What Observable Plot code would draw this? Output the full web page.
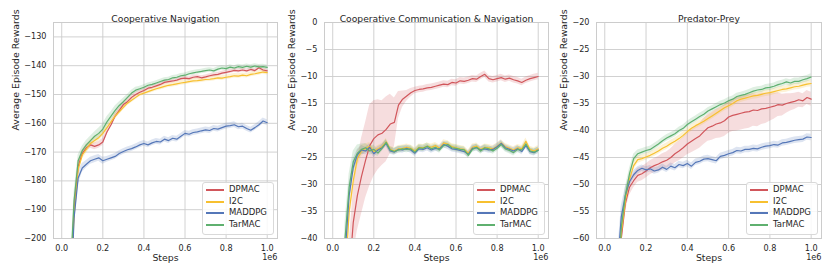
<!DOCTYPE html>
<html><head><meta charset="utf-8">
<script src="https://cdn.jsdelivr.net/npm/d3@7"></script>
<script src="https://cdn.jsdelivr.net/npm/@observablehq/plot@0.6"></script>
<style>
body{margin:0;background:#fff;width:830px;height:277px;overflow:hidden;font-family:'DejaVu Sans',sans-serif}
#wrap{position:relative;width:830px;height:277px}
.panel{position:absolute;top:0}
.panel svg text{font-family:'DejaVu Sans',sans-serif}
.legend{position:absolute;border:1px solid #d9d9d9;border-radius:3px;background:rgba(255,255,255,0.85);font-family:'DejaVu Sans',sans-serif;font-size:8.5px;color:#262626;padding:1px 3px 1px 3px;line-height:11.7px;box-sizing:border-box}
.legend .row{display:flex;align-items:center;white-space:nowrap}
.legend .sw{display:inline-block;width:18px;height:2px;margin-right:5px}
</style></head><body><div id="wrap"></div>
<script>
const series = ["DPMAC", "I2C", "MADDPG", "TarMAC"];
const colors = ["#d1565b", "#f7c030", "#5577b8", "#5fb06f"];
const steps = [0.02,0.04,0.06,0.08,0.10,0.12,0.14,0.16,0.18,0.20,
  0.22,0.24,0.26,0.28,0.30,0.32,0.34,0.36,0.38,0.40,
  0.42,0.44,0.46,0.48,0.50,0.52,0.54,0.56,0.58,0.60,
  0.62,0.64,0.66,0.68,0.70,0.72,0.74,0.76,0.78,0.80,
  0.82,0.84,0.86,0.88,0.90,0.92,0.94,0.96,0.98,1.00];
const xTicks = [0, 0.2, 0.4, 0.6, 0.8, 1.0];

// Cooperative Navigation
const cnDPMAC = [-300,-222,-190,-175,-170.5,-168.5,-167.5,-168,-167.5,-166.5,
  -163,-160.5,-157.5,-155.5,-153.5,-152.5,-151,-150,-149.2,-148.6,
  -147.8,-147.5,-147,-146.5,-145.8,-145.5,-145.3,-145,-144.5,-144.3,
  -144.5,-144,-143.8,-144.2,-143.9,-143.5,-143.2,-143,-142.6,-142.3,
  -142,-141.6,-141.8,-141.5,-141.8,-141.3,-141.7,-140.7,-141.5,-141.8];
const cnI2C = [-300,-225,-192,-176,-171,-169,-167,-166,-165,-163.5,
  -161.5,-159.5,-157.5,-156,-154.5,-153,-152,-151,-150,-149.5,
  -149,-148.5,-148,-147.6,-147.2,-146.8,-146.6,-146.3,-146,-145.8,
  -145.5,-145.3,-145.2,-145,-144.8,-144.7,-144.5,-144.2,-144.3,-144,
  -143.8,-143.5,-143.6,-143.3,-143.5,-143,-142.8,-142.5,-142.2,-142.4];
const cnMADDPG = [-320,-230,-193,-179,-175.5,-174.2,-173,-172.5,-172,-173,
  -172.5,-172,-171.5,-170.5,-169.8,-169.2,-168.8,-168.2,-167.5,-167,
  -167.5,-166.8,-166.3,-166.5,-165.5,-166,-165.2,-165.5,-164.5,-163.5,
  -163.8,-163.2,-163,-162.6,-162.3,-162.5,-161.8,-162,-161.5,-161,
  -160.8,-160.5,-161.2,-161,-161.8,-162.4,-161.5,-160.5,-159.2,-159.8];
const cnTarMAC = [-300,-215,-187,-173,-169.5,-167.5,-166,-164.5,-163.5,-162,
  -159.5,-157.5,-155.5,-153.8,-152.5,-151,-149.5,-148.5,-148,-147.5,
  -146.8,-146.5,-146,-145.5,-145,-144.8,-144.2,-144,-143.5,-143.3,
  -142.8,-142.5,-142.2,-142,-141.7,-141.5,-141.8,-141.2,-140.8,-141,
  -140.5,-140.8,-140.3,-140.6,-140.2,-140.5,-140.1,-140.4,-140.3,-140.6];
const cnDPMACsd = [3,3,3,2,1.2,1.2,1.2,1.2,1.2,1.2, 1,1,1,1,1,0.9,0.9,0.9,0.8,0.8,
  0.7,0.7,0.7,0.7,0.7,0.7,0.7,0.7,0.7,0.7, 0.7,0.7,0.7,0.7,0.7,0.7,0.7,0.7,0.7,0.7,
  0.7,0.7,0.7,0.7,0.7,0.7,0.7,0.7,0.7,0.7];
const cnI2Csd = [3,3,3,2,1.5,1.5,1.3,1.2,1.2,1.2, 1,1,1,1,0.9,0.9,0.9,0.8,0.8,0.8,
  0.8,0.8,0.8,0.8,0.8,0.8,0.8,0.8,0.8,0.8, 0.8,0.8,0.8,0.8,0.8,0.8,0.8,0.8,0.8,0.8,
  0.8,0.8,0.8,0.8,0.8,0.8,0.8,0.8,0.8,0.8];
const cnMADDPGsd = [4,4,4,2.5,1.5,1.3,1.2,1.2,1.2,1.2, 1,1,1,1,1,1,1,1,1,1,
  1,1,1,1,1,1,1,1,1,1, 1,1,1,1,1,1,1,1,1,1, 1,1,1,1,1,1,1,1,1,1];
const cnTarMACsd = [3,3,3,2,1.5,1.5,1.5,1.5,1.8,1.8, 1.8,1.5,1.5,1.2,1.2,1,1,1,0.9,0.9,
  0.8,0.8,0.8,0.8,0.8,0.8,0.8,0.8,0.8,0.8, 0.8,0.8,0.8,0.8,0.8,0.8,0.8,0.8,0.8,0.8,
  0.8,0.8,0.8,0.8,0.8,0.8,0.8,0.8,0.8,0.8];

// Cooperative Communication & Navigation
const ccnDPMAC = [-120,-90,-65,-47,-37,-32,-28.5,-25.5,-22.8,-21.5,
  -20.8,-20.5,-19.8,-18.8,-18.5,-15.3,-14.2,-13.6,-13,-12.6,
  -12.4,-12.3,-12.1,-12,-11.8,-11.6,-11.4,-11.5,-11.1,-11.2,
  -10.8,-10.9,-10.7,-10.4,-10.5,-10,-9.6,-10.4,-10.6,-10.4,
  -10.2,-10.5,-10.3,-10.6,-10.8,-11.1,-10.7,-10.4,-10.2,-10];
const ccnI2C = [-90,-68,-48,-35,-29.3,-25.2,-23.8,-23.3,-22.9,-23.9,
  -23.4,-23,-22.1,-23.5,-23.8,-23.4,-23.3,-23.1,-23.3,-23.8,
  -23.1,-23.2,-22.9,-23.1,-22.8,-23.3,-22.3,-22.5,-23,-23.2,
  -23.4,-23.5,-24.2,-23.1,-22.9,-23.5,-23.1,-23.2,-23.4,-22.9,
  -22.3,-23,-23.3,-23.6,-23.2,-23.4,-22,-23.5,-23.8,-23.4];
const ccnMADDPG = [-85,-62,-43,-32,-26.8,-24.5,-23.6,-23.8,-23.1,-24.3,
  -23.6,-23.2,-22.4,-23.8,-24,-23.5,-23.6,-23.3,-23.6,-24.2,
  -23.4,-23.5,-23.2,-23.6,-23.3,-23.4,-22.6,-22.9,-23.4,-23.5,
  -23.7,-23.9,-24.4,-23.3,-23.2,-23.6,-23.4,-23.6,-23.5,-23,
  -22.4,-23.2,-23.5,-23.8,-23.4,-23.9,-22.8,-23.9,-24.1,-23.6];
const ccnTarMAC = [-80,-60,-40,-30.5,-25.8,-24.2,-23.5,-23.2,-23.8,-23.5,
  -24.2,-23.3,-22.2,-23.6,-23.9,-23.6,-23.4,-23.5,-23.4,-24,
  -23.2,-23.3,-22.9,-23.4,-23.1,-23.6,-22.8,-22.6,-23.2,-23.3,
  -23.5,-23.6,-24.6,-23.5,-23.1,-23.8,-23.2,-23.4,-23.8,-23.3,
  -22.6,-23.4,-23.7,-24.1,-23.5,-23.6,-22.5,-23.8,-24,-23.7];
const ccnDPMACsd = [6,6,6,6,6,6.5,7,7,7.5,7, 6.5,6,6,5.5,4.5,2.5,1.5,1,0.8,0.6,
  0.6,0.6,0.6,0.6,0.6,0.6,0.6,0.6,0.6,0.6, 0.6,0.6,0.6,0.6,0.6,0.6,0.6,0.6,0.6,0.6,
  0.6,0.6,0.6,0.6,0.6,0.6,0.6,0.6,0.6,0.6];
const ccnI2Csd = [3,3,3,2.5,2,1.5,1,0.8,0.7,0.7, 0.6,0.6,0.6,0.6,0.6,0.6,0.6,0.6,0.6,0.6,
  0.6,0.6,0.6,0.6,0.6,0.6,0.6,0.6,0.6,0.6, 0.6,0.6,0.6,0.6,0.6,0.6,0.6,0.6,0.6,0.6,
  0.6,0.6,0.6,0.6,0.6,0.6,0.6,0.6,0.6,0.6];
const ccnMADDPGsd = [3,3,3,2,1.5,1,0.8,0.7,0.7,0.7, 0.6,0.6,0.6,0.6,0.6,0.6,0.6,0.6,0.6,0.6,
  0.6,0.6,0.6,0.6,0.6,0.6,0.6,0.6,0.6,0.6, 0.6,0.6,0.6,0.6,0.6,0.6,0.6,0.6,0.6,0.6,
  0.6,0.6,0.6,0.6,0.6,0.6,0.6,0.6,0.6,0.6];
const ccnTarMACsd = [3,3,3,2.5,2,1.5,1,0.8,0.8,0.8, 0.6,0.6,0.6,0.6,0.6,0.6,0.6,0.6,0.6,0.6,
  0.6,0.6,0.6,0.6,0.6,0.6,0.6,0.6,0.6,0.6, 0.6,0.6,0.6,0.6,0.6,0.6,0.6,0.6,0.6,0.6,
  0.6,0.6,0.6,0.6,0.6,0.6,0.6,0.6,0.6,0.6];

// Predator-Prey
const ppDPMAC = [-110,-90,-72,-60,-53.5,-50.5,-49.3,-48.3,-48,-47.5,
  -46.9,-46.5,-46.2,-45.8,-45.5,-45,-44.3,-43.8,-43.2,-42.5,
  -42,-41.5,-41,-40.2,-39.5,-39.2,-38.8,-38.6,-38.2,-37.5,
  -37.2,-37,-36.8,-36.6,-36.5,-36.2,-36.3,-36,-35.9,-35.7,
  -35.5,-35.2,-35.3,-35,-34.8,-34.6,-34.3,-34.5,-33.9,-34.2];
const ppI2C = [-110,-90,-72,-59,-53,-49,-46.5,-45.4,-45.2,-44.9,
  -44.6,-44.2,-43.8,-43.3,-42.9,-42.4,-42,-41.5,-40.9,-40.2,
  -39.6,-39.1,-38.7,-38.3,-37.8,-37.3,-36.8,-36.3,-35.8,-35.4,
  -35,-34.5,-34.2,-34,-33.8,-33.6,-33.5,-33.3,-33.1,-33,
  -32.8,-32.6,-32.4,-32.3,-32.1,-31.9,-31.8,-31.6,-31.4,-31.3];
const ppMADDPG = [-100,-80,-66,-56,-52,-49.5,-48.2,-47.4,-47,-47.3,
  -47.1,-47.5,-47.3,-46.8,-47.2,-46.6,-46.9,-46.3,-46.5,-46.1,
  -46.6,-45.9,-45.7,-45.3,-45.2,-45.4,-45.6,-44.8,-44.6,-44.3,
  -44.1,-43.7,-43.8,-43.5,-43.5,-43.3,-43.4,-43.1,-42.9,-42.8,
  -42.6,-42.7,-42.3,-42.2,-42,-41.8,-41.7,-41.6,-41.2,-41.3];
const ppTarMAC = [-110,-90,-72,-58,-52,-48,-45.2,-44.3,-44,-43.7,
  -43.5,-43,-42.5,-41.9,-41.4,-41,-40.6,-40,-39.6,-38.9,
  -38.4,-37.9,-37.4,-37,-36.4,-36,-35.6,-35.2,-34.9,-34.5,
  -34.2,-33.7,-33.5,-33.3,-33,-32.7,-32.5,-32.4,-32.1,-32,
  -31.8,-31.5,-31.3,-31,-31.2,-30.9,-30.9,-30.6,-30.4,-30.1];
const ppDPMACsd = [2,2,2,2,1.5,1.5,1.3,1.3,1.3,1.3, 1.3,1.3,1.4,1.5,1.5,1.6,1.7,1.8,1.9,2,
  2.1,2.2,2.3,2.4,2.5,2.6,2.7,2.8,2.9,3, 3,3.1,3.1,3.1,3.1,3,3,2.9,2.8,2.6,
  2.4,2.2,2,1.8,1.6,1.5,1.4,1.3,1.3,1.3];
const ppI2Csd = [2,2,2,2,1.5,1,0.8,0.7,0.6,0.6, 0.6,0.6,0.6,0.6,0.6,0.6,0.6,0.6,0.6,0.6,
  0.6,0.6,0.6,0.6,0.6,0.6,0.6,0.6,0.6,0.6, 0.6,0.6,0.6,0.6,0.6,0.6,0.6,0.6,0.6,0.6,
  0.6,0.6,0.6,0.6,0.6,0.6,0.6,0.6,0.6,0.6];
const ppMADDPGsd = [2,2,2,2,1.5,1,0.8,0.7,0.6,0.6, 0.6,0.6,0.6,0.6,0.6,0.6,0.6,0.6,0.6,0.6,
  0.6,0.6,0.6,0.6,0.6,0.6,0.6,0.6,0.6,0.6, 0.6,0.6,0.6,0.6,0.6,0.6,0.6,0.6,0.6,0.6,
  0.6,0.6,0.6,0.6,0.6,0.6,0.6,0.6,0.6,0.6];
const ppTarMACsd = [2,2,2,2,1.5,1,0.8,0.7,0.6,0.6, 0.6,0.6,0.6,0.6,0.6,0.6,0.6,0.6,0.6,0.6,
  0.6,0.6,0.6,0.6,0.6,0.6,0.6,0.6,0.6,0.6, 0.6,0.6,0.6,0.6,0.6,0.6,0.6,0.6,0.6,0.6,
  0.6,0.6,0.6,0.6,0.6,0.6,0.6,0.6,0.6,0.6];

const titles = ["Cooperative Navigation", "Cooperative Communication & Navigation", "Predator-Prey"];
const yTicksCN = [-200, -190, -180, -170, -160, -150, -140, -130];
const yTicksCCN = [-40, -35, -30, -25, -20, -15, -10, -5, 0];
const yTicksPP = [-60, -55, -50, -45, -40, -35, -30, -25, -20];

const panels = [
  {title: titles[0], means: [cnDPMAC, cnI2C, cnMADDPG, cnTarMAC], sds: [cnDPMACsd, cnI2Csd, cnMADDPGsd, cnTarMACsd],
   yDomain: [-200, -125], yTicks: yTicksCN, left: 0, width: 280, ml: 53, mr: 3, ylabDx: -38},
  {title: titles[1], means: [ccnDPMAC, ccnI2C, ccnMADDPG, ccnTarMAC], sds: [ccnDPMACsd, ccnI2Csd, ccnMADDPGsd, ccnTarMACsd],
   yDomain: [-40, 0], yTicks: yTicksCCN, left: 280, width: 272, ml: 44, mr: 4, ylabDx: -32.5},
  {title: titles[2], means: [ppDPMAC, ppI2C, ppMADDPG, ppTarMAC], sds: [ppDPMACsd, ppI2Csd, ppMADDPGsd, ppTarMACsd],
   yDomain: [-60, -20], yTicks: yTicksPP, left: 552, width: 278, ml: 44, mr: 9, ylabDx: -32.5}
];

const wrap = document.getElementById("wrap");
const MT = 22, MB = 39, H = 277;
const FONT = "DejaVu Sans";
const INK = "#262626";

for (const p of panels) {
  const rows = [];
  series.forEach((s, k) => {
    steps.forEach((x, i) => {
      rows.push({series: s, x, y: p.means[k][i], lo: p.means[k][i] - p.sds[k][i], hi: p.means[k][i] + p.sds[k][i]});
    });
  });
  const marks = [
    Plot.gridX(xTicks, {stroke: "#cccccc", strokeOpacity: 1, strokeWidth: 0.9}),
    Plot.gridY(p.yTicks, {stroke: "#cccccc", strokeOpacity: 1, strokeWidth: 0.9}),
  ];
  series.forEach((s) => {
    const d = rows.filter(r => r.series === s);
    marks.push(Plot.areaY(d, {x: "x", y1: "lo", y2: "hi", fill: "series", fillOpacity: 0.2, clip: true}));
  });
  series.forEach((s) => {
    const d = rows.filter(r => r.series === s);
    marks.push(Plot.line(d, {x: "x", y: "y", stroke: "series", strokeWidth: 1.2, clip: true}));
  });
  marks.push(
    Plot.frame({stroke: "#cccccc", strokeWidth: 1}),
    Plot.axisX(xTicks, {tickSize: 0, tickPadding: 7, tickFormat: d3.format(".1f"), label: null, fill: INK, fontSize: 8.1, fontFamily: FONT}),
    Plot.axisY(p.yTicks, {tickSize: 0, tickPadding: 7, tickFormat: d3.format("d"), label: null, fill: INK, fontSize: 8.1, fontFamily: FONT}),
    Plot.text([p.title], {frameAnchor: "top", dy: -7.3, fill: INK, fontSize: 9.2, fontFamily: FONT}),
    Plot.text(["Steps"], {frameAnchor: "bottom", dy: 22.5, fill: INK, fontSize: 9.4, fontFamily: FONT}),
    Plot.text(["1e6"], {frameAnchor: "bottom-right", dy: 21.7, textAnchor: "end", fill: INK, fontSize: 8.1, fontFamily: FONT}),
    Plot.text(["Average Episode Rewards"], {frameAnchor: "left", dx: p.ylabDx, rotate: -90, fill: INK, fontSize: 9.4, fontFamily: FONT})
  );
  const chart = Plot.plot({
    width: p.width, height: H,
    marginLeft: p.ml, marginRight: p.mr, marginTop: MT, marginBottom: MB,
    x: {domain: [-0.04, 1.05]},
    y: {domain: p.yDomain},
    color: {domain: series, range: colors},
    style: {fontFamily: "'DejaVu Sans', sans-serif", fontSize: "8.1px", color: INK, background: "transparent", overflow: "visible"},
    marks
  });
  const div = document.createElement("div");
  div.className = "panel";
  div.style.left = p.left + "px";
  div.appendChild(chart);
  wrap.appendChild(div);

  // legend
  const lg = document.createElement("div");
  lg.className = "legend";
  const frameRight = p.left + p.width - p.mr;
  lg.style.left = (frameRight - 3 - 72) + "px";
  lg.style.width = "72px";
  lg.style.top = (H - MB - 3 - 53) + "px";
  lg.style.height = "53px";
  series.forEach((s, k) => {
    const r = document.createElement("div");
    r.className = "row";
    const sw = document.createElement("span");
    sw.className = "sw";
    sw.style.background = colors[k];
    r.appendChild(sw);
    r.appendChild(document.createTextNode(s));
    lg.appendChild(r);
  });
  wrap.appendChild(lg);
}
</script></body></html>
